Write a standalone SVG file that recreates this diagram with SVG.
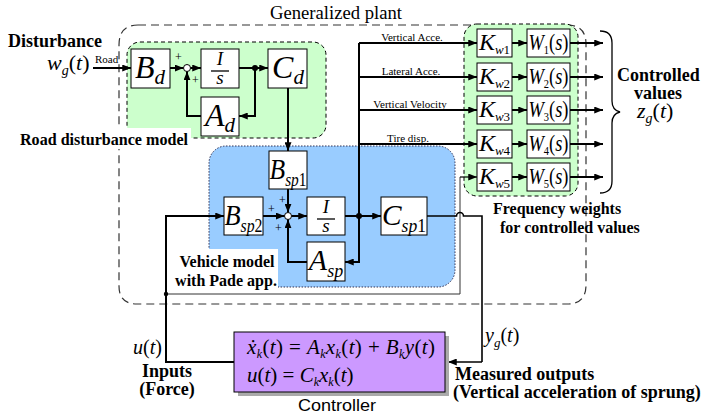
<svg xmlns="http://www.w3.org/2000/svg" width="708" height="414" viewBox="0 0 708 414">
<defs>
<style>
.t{font-family:"Liberation Serif","Times New Roman",serif;}
.it{font-family:"Liberation Serif","Times New Roman",serif;font-style:italic;}
.bd{font-family:"Liberation Serif","Times New Roman",serif;font-weight:bold;}
.up{font-style:normal;}
.box{fill:#fff;stroke:#000;stroke-width:1;}
.w{fill:none;stroke:#000;stroke-width:2;}
.wa{fill:none;stroke:#000;stroke-width:2;marker-end:url(#ah);}
.ta{fill:none;stroke:#222;stroke-width:1.2;marker-end:url(#ah);}
.thin{fill:none;stroke:#333;stroke-width:1;}
.big{font-size:32px;}
.sb{font-size:21px;}
.mid{font-size:30px;}
.msb{font-size:18px;}
.plus{font-family:"Liberation Serif",serif;font-size:12px;}
.small{font-family:"Liberation Serif",serif;font-size:11px;}
</style>
<marker id="ah" viewBox="0 0 10 8" refX="10" refY="4" markerWidth="9" markerHeight="7" markerUnits="userSpaceOnUse" orient="auto"><path d="M0,0L10,4L0,8z" fill="#000"/></marker>
</defs>
<rect width="708" height="414" fill="#fff"/>

<!-- Generalized plant border -->
<g id="generalized-plant">
<path d="M138 25H567Q586 25 586 44V285Q586 304 567 304H137Q119 304 119 286V45Q119 25 138 25Z" fill="none" stroke="#333" stroke-width="1.2" stroke-dasharray="8,5"/>
<text x="270" y="19" class="t" font-size="18" textLength="132" lengthAdjust="spacingAndGlyphs">Generalized plant</text>
</g>

<!-- Road disturbance model area -->
<g id="road-model">
<rect x="127" y="42" width="199" height="96" rx="13" fill="#ccffcc" stroke="#000" stroke-width="1" stroke-dasharray="4,3"/>
<rect x="16" y="128" width="175" height="21" fill="#fff"/>
<text x="20" y="145" class="bd" font-size="16" textLength="168" lengthAdjust="spacingAndGlyphs">Road disturbance model</text>
</g>

<!-- Vehicle model area -->
<g id="vehicle-model">
<rect x="209" y="146" width="246" height="141" rx="17" fill="#99ccff" stroke="#335" stroke-width="1" stroke-dasharray="1.5,1.5"/>
<rect x="172" y="249" width="106" height="43" fill="#fff"/>
<text x="227" y="267" class="bd" font-size="16" text-anchor="middle">Vehicle model</text>
<text x="226" y="286" class="bd" font-size="16" text-anchor="middle">with Pade app.</text>
</g>

<!-- Frequency weights area -->
<g id="freq-weights">
<rect x="464" y="24" width="114" height="172" rx="13" fill="#ccffcc" stroke="#000" stroke-width="1" stroke-dasharray="4,3"/>
<text x="493" y="214" class="bd" font-size="16">Frequency weights</text>
<text x="500" y="233" class="bd" font-size="16">for controlled values</text>
</g>

<!-- Connectors -->
<g id="connectors">
<!-- road model -->
<path class="wa" d="M93 68H131"/>
<path class="wa" d="M170 68H183.5"/>
<path class="wa" d="M190.5 68H201"/>
<path class="w" d="M239 68H255"/>
<path class="wa" d="M255 68H268"/>
<path class="wa" d="M255 68V116H239"/>
<path class="wa" d="M201 116H187V71.5"/>
<path class="wa" d="M288 88V151"/>
<!-- vehicle -->
<path class="wa" d="M288 189V212.5"/>
<path class="wa" d="M263 216H284.5"/>
<path class="wa" d="M291.5 216H307"/>
<path class="w" d="M345 216H359"/>
<path class="wa" d="M359 216H381"/>
<path class="wa" d="M359 216V262H345"/>
<path class="wa" d="M307 262H288V219.5"/>
<!-- bus to weights -->
<path class="w" d="M359 216V43"/>
<path class="wa" d="M359 43H477"/>
<path class="wa" d="M359 77H477"/>
<path class="wa" d="M359 110H477"/>
<path class="wa" d="M359 144H477"/>
<!-- K to W and outputs -->
<path class="wa" d="M512 43H527"/>
<path class="wa" d="M512 77H527"/>
<path class="wa" d="M512 110H527"/>
<path class="wa" d="M512 144H527"/>
<path class="wa" d="M512 177H527"/>
<path class="wa" d="M570 43H603"/>
<path class="wa" d="M570 77H603"/>
<path class="wa" d="M570 110H603"/>
<path class="wa" d="M570 144H603"/>
<path class="wa" d="M570 177H603"/>
<!-- u(t) loop -->
<path class="wa" d="M234 362H166V216H224"/>
<path class="thin" d="M166 294H460V177"/>
<path class="wa" d="M460 177H477" style="stroke-width:1.2"/>
<!-- y output -->
<path fill="none" stroke="#000" stroke-width="1.6" d="M427 216H456.5A3.5 3.5 0 0 1 463.5 216H482V362"/>
<path class="wa" d="M482 362H448" style="stroke-width:1.6"/>
<!-- junctions -->
<circle cx="255" cy="68" r="3"/>
<circle cx="359" cy="216" r="3"/>
<circle cx="166" cy="294" r="2.2"/>
</g>

<!-- sum junctions -->
<g id="sum-road">
<circle cx="187" cy="68" r="3.5" fill="#fff" stroke="#000" stroke-width="1"/>
<text x="175" y="61" class="plus">+</text>
<text x="192" y="84" class="plus">+</text>
</g>
<g id="sum-vehicle">
<circle cx="288" cy="216" r="3.5" fill="#fff" stroke="#000" stroke-width="1"/>
<text x="279" y="204" class="plus">+</text>
<text x="268" y="213" class="plus">+</text>
<text x="275" y="232" class="plus">+</text>
</g>

<!-- road blocks -->
<g id="Bd"><rect class="box" x="131" y="49" width="39" height="39"/>
<text x="150" y="78" class="it big" text-anchor="middle">B<tspan class="sb" dy="6">d</tspan></text></g>
<g id="Is-road"><rect class="box" x="201" y="49" width="38" height="39"/>
<text x="220" y="65" class="it" font-size="19" text-anchor="middle">I</text>
<path d="M211 71H229" stroke="#000" stroke-width="1.3"/>
<text x="220" y="84" class="it" font-size="19" text-anchor="middle">s</text></g>
<g id="Cd"><rect class="box" x="268" y="49" width="39" height="39"/>
<text x="288" y="78" class="it big" text-anchor="middle">C<tspan class="sb" dy="6">d</tspan></text></g>
<g id="Ad"><rect class="box" x="201" y="97" width="38" height="39"/>
<text x="220" y="126" class="it big" text-anchor="middle">A<tspan class="sb" dy="6">d</tspan></text></g>

<!-- vehicle blocks -->
<g id="Bsp1"><rect class="box" x="269" y="151" width="38" height="38"/>
<text x="288" y="179" class="it mid" text-anchor="middle" textLength="37" lengthAdjust="spacingAndGlyphs">B<tspan class="msb" dy="7">sp</tspan><tspan class="msb up">1</tspan></text></g>
<g id="Bsp2"><rect class="box" x="224" y="197" width="39" height="38"/>
<text x="243.5" y="225" class="it mid" text-anchor="middle" textLength="38" lengthAdjust="spacingAndGlyphs">B<tspan class="msb" dy="7">sp</tspan><tspan class="msb up">2</tspan></text></g>
<g id="Is-vehicle"><rect class="box" x="307" y="197" width="38" height="38"/>
<text x="326" y="213" class="it" font-size="19" text-anchor="middle">I</text>
<path d="M317 219H335" stroke="#000" stroke-width="1.3"/>
<text x="326" y="232" class="it" font-size="19" text-anchor="middle">s</text></g>
<g id="Csp1"><rect class="box" x="381" y="197" width="46" height="38"/>
<text x="404" y="225" class="it mid" text-anchor="middle" textLength="44" lengthAdjust="spacingAndGlyphs">C<tspan class="msb" dy="7">sp</tspan><tspan class="msb up">1</tspan></text></g>
<g id="Asp"><rect class="box" x="307" y="242" width="38" height="39"/>
<text x="326" y="270" class="it mid" text-anchor="middle">A<tspan class="msb" dy="7">sp</tspan></text></g>

<!-- signal labels -->
<g id="signal-labels">
<text x="412" y="41" class="small" text-anchor="middle">Vertical Acce.</text>
<text x="411" y="75" class="small" text-anchor="middle">Lateral Acce.</text>
<text x="410" y="108" class="small" text-anchor="middle">Vertical Velocity</text>
<text x="408" y="142" class="small" text-anchor="middle">Tire disp.</text>
<text x="95" y="63" class="small">Road</text>
</g>

<!-- weights -->
<g id="Kw1"><rect class="box" x="477" y="29" width="35" height="28"/><text x="494.5" y="50" class="it" font-size="24" text-anchor="middle">K<tspan font-size="13" dy="4">w</tspan><tspan font-size="13" class="up">1</tspan></text></g>
<g id="Kw2"><rect class="box" x="477" y="63" width="35" height="28"/><text x="494.5" y="84" class="it" font-size="24" text-anchor="middle">K<tspan font-size="13" dy="4">w</tspan><tspan font-size="13" class="up">2</tspan></text></g>
<g id="Kw3"><rect class="box" x="477" y="96" width="35" height="28"/><text x="494.5" y="117" class="it" font-size="24" text-anchor="middle">K<tspan font-size="13" dy="4">w</tspan><tspan font-size="13" class="up">3</tspan></text></g>
<g id="Kw4"><rect class="box" x="477" y="130" width="35" height="28"/><text x="494.5" y="151" class="it" font-size="24" text-anchor="middle">K<tspan font-size="13" dy="4">w</tspan><tspan font-size="13" class="up">4</tspan></text></g>
<g id="Kw5"><rect class="box" x="477" y="163" width="35" height="28"/><text x="494.5" y="184" class="it" font-size="24" text-anchor="middle">K<tspan font-size="13" dy="4">w</tspan><tspan font-size="13" class="up">5</tspan></text></g>

<g id="W1"><rect class="box" x="527" y="29" width="43" height="28"/><text x="528.5" y="50" class="it" font-size="23" textLength="40" lengthAdjust="spacingAndGlyphs">W<tspan font-size="13" class="up" dy="4">1</tspan><tspan class="up" dy="-4">(</tspan>s<tspan class="up">)</tspan></text></g>
<g id="W2"><rect class="box" x="527" y="63" width="43" height="28"/><text x="528.5" y="84" class="it" font-size="23" textLength="40" lengthAdjust="spacingAndGlyphs">W<tspan font-size="13" class="up" dy="4">2</tspan><tspan class="up" dy="-4">(</tspan>s<tspan class="up">)</tspan></text></g>
<g id="W3"><rect class="box" x="527" y="96" width="43" height="28"/><text x="528.5" y="117" class="it" font-size="23" textLength="40" lengthAdjust="spacingAndGlyphs">W<tspan font-size="13" class="up" dy="4">3</tspan><tspan class="up" dy="-4">(</tspan>s<tspan class="up">)</tspan></text></g>
<g id="W4"><rect class="box" x="527" y="130" width="43" height="28"/><text x="528.5" y="151" class="it" font-size="23" textLength="40" lengthAdjust="spacingAndGlyphs">W<tspan font-size="13" class="up" dy="4">4</tspan><tspan class="up" dy="-4">(</tspan>s<tspan class="up">)</tspan></text></g>
<g id="W5"><rect class="box" x="527" y="163" width="43" height="28"/><text x="528.5" y="184" class="it" font-size="23" textLength="40" lengthAdjust="spacingAndGlyphs">W<tspan font-size="13" class="up" dy="4">5</tspan><tspan class="up" dy="-4">(</tspan>s<tspan class="up">)</tspan></text></g>

<!-- disturbance -->
<g id="disturbance">
<text x="8" y="47" class="bd" font-size="18">Disturbance</text>
<text x="47" y="70" class="it" font-size="22">w<tspan font-size="14" dy="5">g</tspan><tspan class="up" dy="-5">(</tspan>t<tspan class="up">)</tspan></text>
</g>

<!-- controlled values -->
<g id="controlled-values">
<path d="M600 31Q612 31 612 43V101Q612 110 620 112Q612 114 612 123V181Q612 193 600 193" fill="none" stroke="#000" stroke-width="1.3"/>
<text x="617" y="81" class="bd" font-size="18">Controlled</text>
<text x="658" y="99" class="bd" font-size="18" text-anchor="middle">values</text>
<text x="637" y="118" class="it" font-size="22">z<tspan font-size="14" dy="5">g</tspan><tspan class="up" dy="-5">(</tspan>t<tspan class="up">)</tspan></text>
</g>

<!-- controller -->
<g id="controller">
<rect x="238" y="336" width="211" height="60" fill="#aaa"/>
<rect x="234" y="332" width="211" height="60" fill="#cc99ff" stroke="#000" stroke-width="1"/>
<text x="247" y="354" class="it" font-size="21" textLength="188" lengthAdjust="spacing">ẋ<tspan font-size="12" dy="4">k</tspan><tspan class="up" dy="-4">(</tspan>t<tspan class="up">) = </tspan>A<tspan font-size="12" dy="4">k</tspan><tspan dy="-4">x</tspan><tspan font-size="12" dy="4">k</tspan><tspan class="up" dy="-4">(</tspan>t<tspan class="up">) + </tspan>B<tspan font-size="12" dy="4">k</tspan><tspan dy="-4">y</tspan><tspan class="up">(</tspan>t<tspan class="up">)</tspan></text>
<text x="247" y="382" class="it" font-size="21">u<tspan class="up">(</tspan>t<tspan class="up">) = </tspan>C<tspan font-size="12" dy="4">k</tspan><tspan dy="-4">x</tspan><tspan font-size="12" dy="4">k</tspan><tspan class="up" dy="-4">(</tspan>t<tspan class="up">)</tspan></text>
<text x="298" y="411" font-family="'Liberation Sans Narrow','Liberation Sans',sans-serif" font-size="16" textLength="78" lengthAdjust="spacingAndGlyphs">Controller</text>
</g>

<!-- io labels -->
<g id="io-labels">
<text x="133" y="354" class="it" font-size="20">u<tspan class="up">(</tspan>t<tspan class="up">)</tspan></text>
<text x="167" y="377" class="bd" font-size="18" text-anchor="middle">Inputs</text>
<text x="167" y="395" class="bd" font-size="18" text-anchor="middle">(Force)</text>
<text x="485" y="342" class="it" font-size="20">y<tspan font-size="13" dy="5">g</tspan><tspan class="up" dy="-5">(</tspan>t<tspan class="up">)</tspan></text>
<text x="455" y="380" class="bd" font-size="18">Measured outputs</text>
<text x="453" y="398" class="bd" font-size="18">(Vertical acceleration of sprung)</text>
</g>
</svg>
